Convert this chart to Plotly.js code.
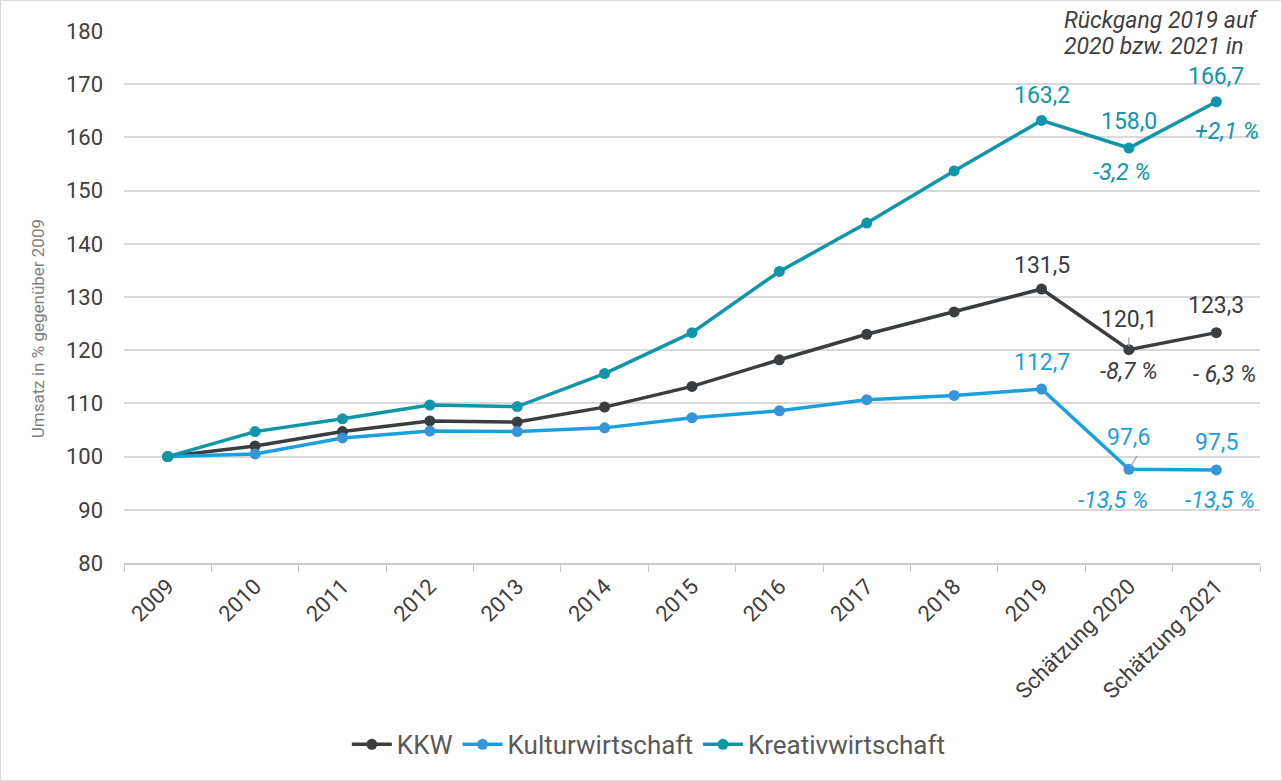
<!DOCTYPE html>
<html><head><meta charset="utf-8">
<script src="https://cdn.plot.ly/plotly-3.0.1.min.js"></script>
<style>body{margin:0;background:#fff}#c{width:1280px;height:779px;border:1px solid #d9d9d9}</style>
</head><body><div id="c"></div>
<script>
const categories = ["2009","2010","2011","2012","2013","2014","2015","2016","2017","2018","2019","Schätzung 2020","Schätzung 2021"];
const kkw = [100,102.0,104.7,106.7,106.5,109.3,113.2,118.2,123.0,127.2,131.5,120.1,123.3];
const kultur = [100,100.5,103.5,104.8,104.7,105.4,107.3,108.6,110.7,111.5,112.7,97.6,97.5];
const kreativ = [100,104.7,107.1,109.7,109.4,115.6,123.3,134.8,143.9,153.7,163.2,158.0,166.7];
const changeKKW = ["-8,7 %","- 6,3 %"];
const changeKultur = ["-13,5 %","-13,5 %"];
const changeKreativ = ["-3,2 %","+2,1 %"];
const noteLines = ["Rückgang 2019 auf","2020 bzw. 2021 in"];
const yTitle = "Umsatz in % gegenüber 2009";

const cK = "#3a3e41", cKu = "#1ba0de", cKr = "#1096a9";
const font = "Roboto, 'Liberation Sans', sans-serif";
function tr(name, y, c, mc){
  return {type:"scatter", mode:"lines+markers", name, x:categories, y,
    line:{color:c,width:3.5}, marker:{color:mc||c,size:11}};
}
const data = [tr("KKW",kkw,cK), tr("Kulturwirtschaft",kultur,cKu,"#3595d6"), tr("Kreativwirtschaft",kreativ,cKr)];

function fmt(v){ return v.toFixed(1).replace(".",","); }
function lab(i, arr, txt, c, dx, dy, italic){
  return {x:i, y:arr[i], text:txt, xref:"x", yref:"y",
    font:{family:font,size:23,color:c, style: italic?"italic":"normal"},
    showarrow:false, xshift:dx, yshift:dy};
}
const ann = [
  lab(10,kreativ,fmt(kreativ[10]),cKr,0,25),
  lab(11,kreativ,fmt(kreativ[11]),cKr,0,27),
  lab(11,kreativ,changeKreativ[0],cKr,-7,-24,true),
  lab(12,kreativ,fmt(kreativ[12]),cKr,0,25),
  lab(12,kreativ,changeKreativ[1],cKr,11,-30,true),
  lab(10,kkw,fmt(kkw[10]),cK,0,24),
  lab(11,kkw,fmt(kkw[11]),cK,0,30),
  lab(11,kkw,changeKKW[0],cK,0,-22,true),
  lab(12,kkw,fmt(kkw[12]),cK,0,27),
  lab(12,kkw,changeKKW[1],cK,8,-42,true),
  lab(10,kultur,fmt(kultur[10]),cKu,0,27),
  lab(11,kultur,fmt(kultur[11]),cKu,0,32),
  lab(11,kultur,changeKultur[0],cKu,-16,-31,true),
  lab(12,kultur,fmt(kultur[12]),cKu,0,27),
  lab(12,kultur,changeKultur[1],cKu,4,-31,true),
  {xref:"paper",yref:"paper",x:0.826,y:1.02,xanchor:"left",yanchor:"middle",
   text:noteLines[0],showarrow:false,font:{family:font,size:23,color:"#404040",style:"italic"}},
  {xref:"paper",yref:"paper",x:0.826,y:0.9715,xanchor:"left",yanchor:"middle",
   text:noteLines[1],showarrow:false,font:{family:font,size:23,color:"#404040",style:"italic"}},
  {xref:"paper",yref:"paper",x:-0.075,y:0.441,xanchor:"center",yanchor:"middle",textangle:-90,
   text:yTitle,showarrow:false,font:{family:font,size:17,color:"#7f7f7f"}}
];
// leader lines
ann.push({x:11,y:kkw[11],xref:"x",yref:"y",ax:0,ay:-14,showarrow:true,arrowhead:0,arrowcolor:"#a0a0a0",arrowwidth:1.2,text:"",standoff:3});
ann.push({x:11,y:kultur[11],xref:"x",yref:"y",ax:9,ay:-15,showarrow:true,arrowhead:0,arrowcolor:"#a0a0a0",arrowwidth:1.2,text:"",standoff:3});

const layout = {
  width:1280, height:779, margin:{l:123,r:21,t:30,b:212},
  paper_bgcolor:"#fff", plot_bgcolor:"#fff", showlegend:true,
  font:{family:font,color:"#404040"},
  xaxis:{type:"category", range:[-0.5,12.5], tickangle:-45, tickfont:{size:22,color:"#404040"},
    showgrid:false, showline:true, linecolor:"#c8c8c8", linewidth:1.5,
    ticks:"outside", tickson:"boundaries", ticklen:7, tickcolor:"#c8c8c8"},
  yaxis:{range:[80,180], dtick:10, tickfont:{size:22,color:"#404040"}, gridcolor:"#d9d9d9", gridwidth:1.5,
    zeroline:false, showline:false, ticks:"", ticklabelstandoff:20},
  legend:{orientation:"h", x:0.462, xanchor:"center", y:-0.341, yanchor:"middle",
    font:{size:26,color:"#595959"}, itemwidth:40, tracegroupgap:20},
  annotations:ann
};
Plotly.newPlot("c", data, layout, {displayModeBar:false});
</script></body></html>
